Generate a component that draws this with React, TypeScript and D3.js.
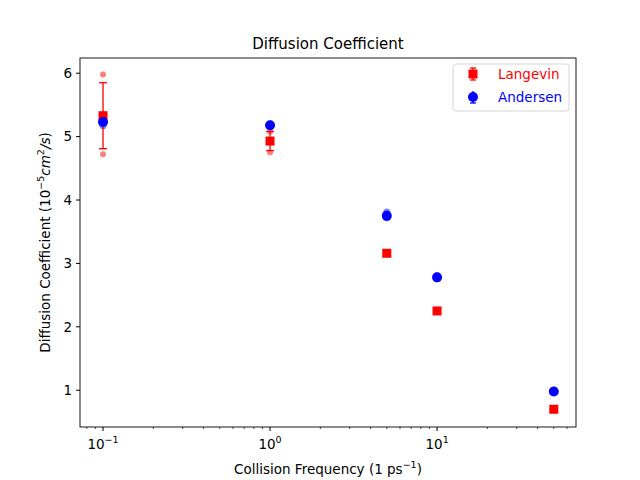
import * as d3 from 'd3';

const freqs = [0.1, 1, 5, 10, 50];
const langevinMean = [5.33, 4.93, 3.16, 2.25, 0.70];
const langevinErr = [0.52, 0.15, 0.02, 0.02, 0.01];
const langevinRuns = [[5.98, 4.72], [4.75, 5.08], [3.15, 3.17], [2.24, 2.26], [0.7, 0.71]];
const andersenMean = [5.23, 5.18, 3.75, 2.78, 0.98];
const andersenErr = [0.05, 0.02, 0.04, 0.02, 0.01];
const andersenRuns = [[5.17, 5.28], [5.15, 5.2], [3.72, 3.81], [2.76, 2.8], [0.97, 0.99]];
const yTicks = [1, 2, 3, 4, 5, 6];
const xTicks = [0.1, 1, 10];
const xTickExp = ['−1', '0', '1'];

const W = 640, H = 480;
const L = 80, R = 576, T = 58, B = 427;
const font = 'DejaVu Sans, sans-serif';

export default function App() {
  const x = d3.scaleLog().domain([0.0728, 67.9]).range([L, R]);
  const y = d3.scaleLinear().domain([0.42, 6.24]).range([B, T]);
  const minor: number[] = [];
  for (let e = -2; e <= 1; e++) for (let k = 2; k <= 9; k++) {
    const v = k * Math.pow(10, e);
    if (v > 0.0728 && v < 67.9) minor.push(v);
  }
  return (
    <svg width={W} height={H} style={{ position: 'fixed', left: 0, top: 0 }} fontFamily={font}>
      <rect width={W} height={H} fill="white" />
      {/* runs */}
      {freqs.map((f, i) => langevinRuns[i].map((v, j) => (
        <circle key={`lr${i}${j}`} cx={x(f)} cy={y(v)} r={3} fill="red" opacity={0.5} />
      )))}
      {freqs.map((f, i) => andersenRuns[i].map((v, j) => (
        <circle key={`ar${i}${j}`} cx={x(f)} cy={y(v)} r={3.5} fill="blue" opacity={0.5} />
      )))}
      {/* error bars */}
      {freqs.map((f, i) => (
        <g key={`le${i}`} stroke="red" strokeWidth={1.3}>
          <line x1={x(f)} x2={x(f)} y1={y(langevinMean[i] - langevinErr[i])} y2={y(langevinMean[i] + langevinErr[i])} />
          <line x1={x(f) - 4} x2={x(f) + 4} y1={y(langevinMean[i] - langevinErr[i])} y2={y(langevinMean[i] - langevinErr[i])} />
          <line x1={x(f) - 4} x2={x(f) + 4} y1={y(langevinMean[i] + langevinErr[i])} y2={y(langevinMean[i] + langevinErr[i])} />
        </g>
      ))}
      {freqs.map((f, i) => (
        <rect key={`lm${i}`} x={x(f) - 4.5} y={y(langevinMean[i]) - 4.5} width={9} height={9} fill="red" />
      ))}
      {freqs.map((f, i) => (
        <g key={`ae${i}`} stroke="blue" strokeWidth={1.3}>
          <line x1={x(f)} x2={x(f)} y1={y(andersenMean[i] - andersenErr[i])} y2={y(andersenMean[i] + andersenErr[i])} />
        </g>
      ))}
      {freqs.map((f, i) => (
        <circle key={`am${i}`} cx={x(f)} cy={y(andersenMean[i])} r={5} fill="blue" />
      ))}
      {/* axes */}
      <rect x={L} y={T} width={R - L} height={B - T} fill="none" stroke="black" strokeWidth={0.9} />
      {yTicks.map(t => (
        <g key={`y${t}`}>
          <line x1={L - 4} x2={L} y1={y(t)} y2={y(t)} stroke="black" />
          <text x={L - 8} y={y(t)} dy="0.35em" textAnchor="end" fontSize={13.5}>{t}</text>
        </g>
      ))}
      {minor.map(t => (
        <line key={`m${t}`} x1={x(t)} x2={x(t)} y1={B} y2={B + 2} stroke="black" strokeWidth={0.7} />
      ))}
      {xTicks.map((t, i) => (
        <g key={`x${t}`}>
          <line x1={x(t)} x2={x(t)} y1={B} y2={B + 4} stroke="black" />
          <text x={x(t)} y={B + 22} textAnchor="middle" fontSize={13.5}>
            10<tspan dy={-6} fontSize={9.5}>{xTickExp[i]}</tspan>
          </text>
        </g>
      ))}
      <text x={(L + R) / 2} y={49} textAnchor="middle" fontSize={15}>Diffusion Coefficient</text>
      <text x={(L + R) / 2} y={474} textAnchor="middle" fontSize={13.5}>
        Collision Frequency (1 ps<tspan dy={-6} fontSize={9.5}>−1</tspan><tspan dy={6}>)</tspan>
      </text>
      <text transform={`translate(50,${(T + B) / 2}) rotate(-90)`} textAnchor="middle" fontSize={13.5}>
        Diffusion Coefficient (10<tspan dy={-6} fontSize={9.5}>−5</tspan><tspan dy={6} fontStyle="italic">cm</tspan><tspan dy={-6} fontSize={9.5}>2</tspan><tspan dy={6} fontStyle="italic">/s</tspan>)
      </text>
      {/* legend */}
      <g>
        <rect x={453} y={64} width={116} height={47} rx={3} fill="white" stroke="#ccc" opacity={0.8} />
        <line x1={473} x2={473} y1={68} y2={80} stroke="red" strokeWidth={1.3} />
        <line x1={470} x2={476} y1={68} y2={68} stroke="red" strokeWidth={1.3} />
        <line x1={470} x2={476} y1={80} y2={80} stroke="red" strokeWidth={1.3} />
        <rect x={468.5} y={69.5} width={9} height={9} fill="red" />
        <text x={498} y={79} fontSize={13.5} fill="red">Langevin</text>
        <line x1={473} x2={473} y1={91} y2={103} stroke="blue" strokeWidth={1.3} />
        <line x1={470} x2={476} y1={103} y2={103} stroke="blue" strokeWidth={1.3} />
        <circle cx={473} cy={97} r={5} fill="blue" />
        <text x={498} y={102} fontSize={13.5} fill="blue">Andersen</text>
      </g>
    </svg>
  );
}
